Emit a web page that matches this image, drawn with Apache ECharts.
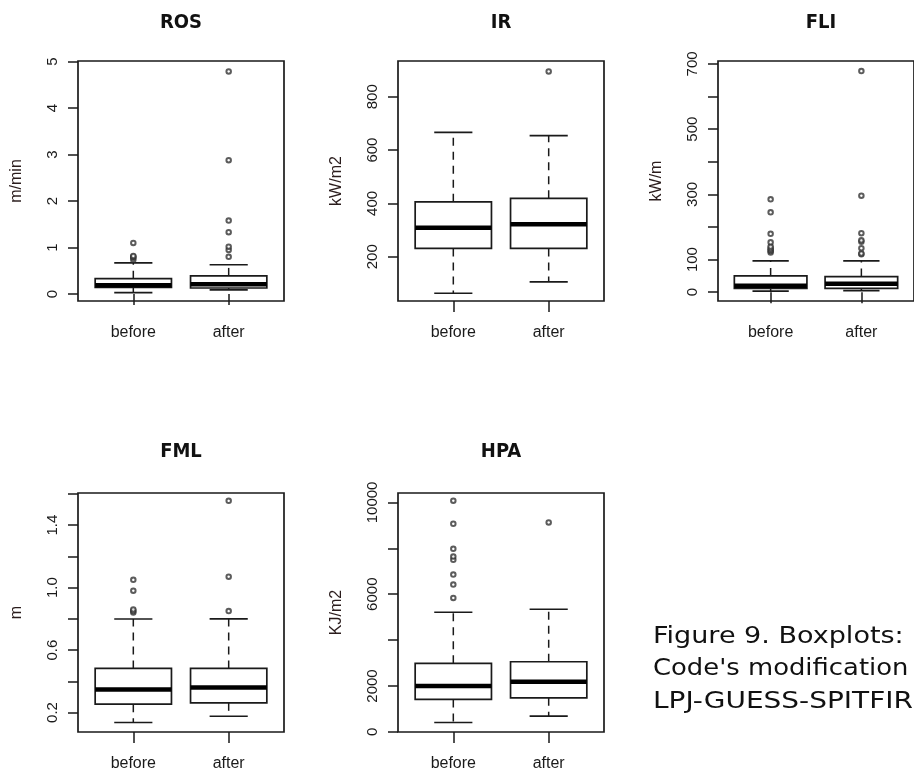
<!DOCTYPE html>
<html><head><meta charset="utf-8">
<script src="https://cdn.jsdelivr.net/npm/echarts@6/dist/echarts.min.js"></script>
<style>html,body{margin:0;padding:0;background:#fff}#c{width:914px;height:773px}</style>
</head><body><div id="c"></div>
<script>
// ---------- data ----------
const categories = ['before', 'after'];
const titles = ['ROS', 'IR', 'FLI', 'FML', 'HPA'];
const units = ['m/min', 'kW/m2', 'kW/m', 'm', 'KJ/m2'];
// five-number summaries: [lower whisker, Q1, median, Q3, upper whisker]
const rosBefore = [0.03, 0.14, 0.19, 0.33, 0.67];
const rosAfter  = [0.09, 0.13, 0.21, 0.39, 0.63];
const irBefore  = [63, 231, 309, 406, 666];
const irAfter   = [106, 231, 322, 419, 654];
const fliBefore = [3, 12, 20, 50, 96];
const fliAfter  = [5, 12, 26, 48, 96];
const fmlBefore = [0.136, 0.253, 0.348, 0.482, 0.799];
const fmlAfter  = [0.176, 0.262, 0.36, 0.482, 0.8];
const hpaBefore = [410, 1415, 1996, 2987, 5214];
const hpaAfter  = [686, 1485, 2184, 3057, 5345];
// outliers
const rosOutBefore = [0.74, 0.78, 0.8, 0.82, 1.1];
const rosOutAfter  = [0.8, 0.95, 1.02, 1.33, 1.58, 2.88, 4.79];
const irOutBefore  = [];
const irOutAfter   = [895];
const fliOutBefore = [122, 126, 130, 135, 140, 153, 179, 245, 285];
const fliOutAfter  = [116, 119, 135, 155, 159, 181, 296, 678];
const fmlOutBefore = [0.84, 0.85, 0.86, 0.98, 1.05];
const fmlOutAfter  = [0.85, 1.07, 1.556];
const hpaOutBefore = [5839, 6420, 6856, 7498, 7642, 7978, 9070, 10075];
const hpaOutAfter  = [9127];
// axis ticks and labels
const rosTicks = [0, 1, 2, 3, 4, 5];           const rosLabels = [0, 1, 2, 3, 4, 5];
const irTicks  = [200, 400, 600, 800];          const irLabels  = [200, 400, 600, 800];
const fliTicks = [0, 100, 200, 300, 400, 500, 600, 700]; const fliLabels = [0, 100, 300, 500, 700];
const fmlTicks = [0.2, 0.4, 0.6, 0.8, 1.0, 1.2, 1.4, 1.6]; const fmlLabels = [0.2, 0.6, 1.0, 1.4];
const hpaTicks = [0, 2000, 4000, 6000, 8000, 10000]; const hpaLabels = [0, 2000, 6000, 10000];
const captionLines = ['Figure 9. Boxplots:', "Code's modification", 'LPJ-GUESS-SPITFIRE'];

// ---------- assembly ----------
const stats = [[rosBefore, rosAfter], [irBefore, irAfter], [fliBefore, fliAfter], [fmlBefore, fmlAfter], [hpaBefore, hpaAfter]];
const outs = [[rosOutBefore, rosOutAfter], [irOutBefore, irOutAfter], [fliOutBefore, fliOutAfter], [fmlOutBefore, fmlOutAfter], [hpaOutBefore, hpaOutAfter]];
const ticks = [rosTicks, irTicks, fliTicks, fmlTicks, hpaTicks];
const labels = [rosLabels, irLabels, fliLabels, fmlLabels, hpaLabels];
const yMin = [-0.15, 34, -27, 0.075, -5];
const yMax = [5.015, 934, 709, 1.606, 10410];
const labelFmt = [v => String(v), v => String(v), v => String(v), v => v.toFixed(1), v => String(v)];

const grids = [
  {left: 78, top: 61, width: 206, height: 240},
  {left: 398, top: 61, width: 206, height: 240},
  {left: 718, top: 61, width: 206, height: 240},
  {left: 78, top: 493, width: 206, height: 239},
  {left: 398, top: 493, width: 206, height: 239}
];
const titlePos = [[181, 22.5], [501, 22.5], [821, 22.5], [181, 451.7], [501, 451.7]];
const ink = '#1a1a1a';
const FONT = "'Liberation Sans', Arial, sans-serif";

function renderBox(params, api) {
  const x = api.value(0);
  const pLo = api.coord([x, api.value(1)]);
  const pQ1 = api.coord([x, api.value(2)]);
  const pMed = api.coord([x, api.value(3)]);
  const pQ3 = api.coord([x, api.value(4)]);
  const pHi = api.coord([x, api.value(5)]);
  const hw = api.size([0.4, 0])[0];
  const cw = api.size([0.2, 0])[0];
  const cx = pMed[0];
  return {
    type: 'group',
    children: [
      {type: 'line', shape: {x1: cx, y1: pQ3[1], x2: cx, y2: pHi[1]}, style: {stroke: ink, lineWidth: 1.5, lineDash: [8, 6]}},
      {type: 'line', shape: {x1: cx, y1: pQ1[1], x2: cx, y2: pLo[1]}, style: {stroke: ink, lineWidth: 1.5, lineDash: [8, 6]}},
      {type: 'line', shape: {x1: cx - cw, y1: pHi[1], x2: cx + cw, y2: pHi[1]}, style: {stroke: ink, lineWidth: 1.7}},
      {type: 'line', shape: {x1: cx - cw, y1: pLo[1], x2: cx + cw, y2: pLo[1]}, style: {stroke: ink, lineWidth: 1.7}},
      {type: 'rect', shape: {x: cx - hw, y: pQ3[1], width: 2 * hw, height: pQ1[1] - pQ3[1]}, style: {fill: '#fff', stroke: ink, lineWidth: 1.7}},
      {type: 'line', shape: {x1: cx - hw, y1: pMed[1], x2: cx + hw, y2: pMed[1]}, style: {stroke: '#000', lineWidth: 4.5}}
    ]
  };
}

const xAxes = [], yAxes = [], series = [], graphics = [];
for (let i = 0; i < 5; i++) {
  xAxes.push({
    type: 'value', gridIndex: i, min: 0.42, max: 2.58,
    axisLine: {show: false}, splitLine: {show: false},
    axisTick: {show: true, length: 11, customValues: [1, 2], lineStyle: {color: ink, width: 1.5}},
    axisLabel: {show: true, customValues: [1, 2], formatter: v => categories[Math.round(v) - 1],
      margin: 24, fontSize: 16, fontFamily: FONT, color: '#1a1a1a'}
  });
  yAxes.push({
    type: 'value', gridIndex: i, min: yMin[i], max: yMax[i],
    name: units[i], nameLocation: 'middle', nameGap: 53,
    nameTextStyle: {fontSize: 16, fontFamily: FONT, color: '#2a1c1c'},
    axisLine: {show: false}, splitLine: {show: false},
    axisTick: {show: true, length: 10, customValues: ticks[i], lineStyle: {color: ink, width: 1.5}},
    axisLabel: {show: true, customValues: labels[i], formatter: labelFmt[i], rotate: 90,
      margin: 18, fontSize: 15, fontFamily: FONT, color: '#1a1a1a'}
  });
  series.push({
    type: 'custom', xAxisIndex: i, yAxisIndex: i, renderItem: renderBox,
    encode: {x: 0, y: [1, 2, 3, 4, 5]},
    data: stats[i].map((s, k) => [k + 1].concat(s)), silent: true, z: 2
  });
  series.push({
    type: 'scatter', xAxisIndex: i, yAxisIndex: i, symbol: 'emptyCircle', symbolSize: 4.5,
    itemStyle: {color: '#333', borderColor: '#333', borderWidth: 0.9},
    data: outs[i][0].map(v => [1, v]).concat(outs[i][1].map(v => [2, v])), silent: true, z: 3
  });
  graphics.push({
    type: 'text', x: titlePos[i][0], y: titlePos[i][1], silent: true,
    style: {text: titles[i], fontSize: 20, fontWeight: 'bold', fontFamily: "'Liberation Sans Narrow', 'DejaVu Sans Condensed', " + FONT,
      fill: '#111', align: 'center', verticalAlign: 'middle'}
  });
}
const capY = [637, 669, 702];
const capScale = [1.15, 1.10, 1.19];
captionLines.forEach((t, k) => {
  graphics.push({
    type: 'text', x: 653, y: capY[k], scaleX: capScale[k], silent: true,
    style: {text: t, fontSize: 23.5, fontFamily: "'DejaVu Sans', Verdana, sans-serif", fill: '#111', align: 'left', verticalAlign: 'middle'}
  });
});

const chart = echarts.init(document.getElementById('c'), null, {renderer: 'canvas'});
chart.setOption({
  animation: false,
  backgroundColor: '#fff',
  grid: grids.map(g => Object.assign({show: true, borderColor: ink, borderWidth: 1.7, backgroundColor: 'transparent', containLabel: false}, g)),
  xAxis: xAxes,
  yAxis: yAxes,
  series: series,
  graphic: graphics
});
</script>
</body></html>
